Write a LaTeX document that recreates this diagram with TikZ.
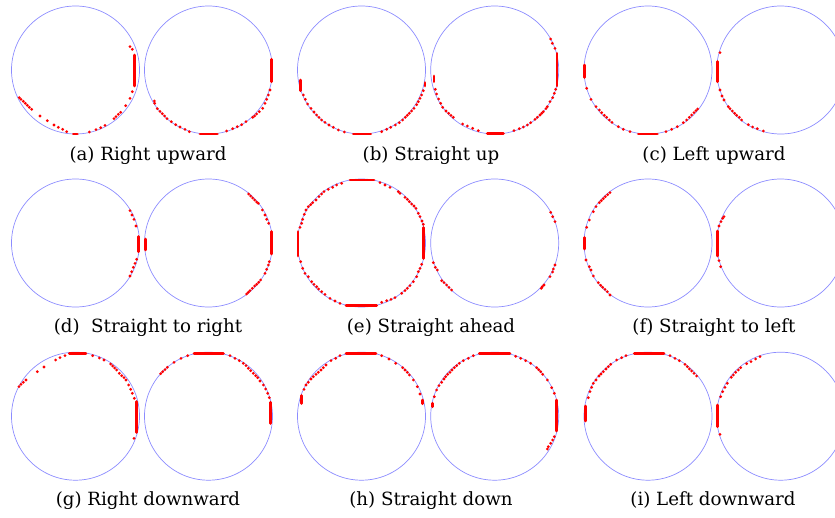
\documentclass[tikz,border=0pt]{standalone}
\usepackage{fontspec}
\setmainfont{DejaVu Serif}
\definecolor{ringblue}{RGB}{140,140,255}
\definecolor{dotred}{RGB}{255,0,0}
\tikzset{
  ring/.style={draw=ringblue, line width=0.7pt},
  reddot/.style={fill=dotred},
  redbar/.style={draw=dotred, line width=2.9pt, line cap=round},
  caption/.style={anchor=base, inner sep=0pt, font=\fontsize{18.2}{21}\selectfont}
}
\newcommand\rdots[3]{\foreach \a/\b in {#3} \fill[reddot] ({#1+\a/3},{#2+\b/3}) circle[radius=1.55pt];}
\newcommand\rbars[3]{\foreach \a/\b/\c/\d in {#3} \draw[redbar] ({#1+\a/3},{#2+\b/3}) -- ({#1+\c/3},{#2+\d/3});}
\begin{document}
\begin{tikzpicture}[x=1pt,y=-1pt]
\useasboundingbox (0,0) rectangle (835,517);
\clip (0,0) rectangle (835,517);
% circles
\foreach \cy in {70,243,416.2}{
  \foreach \cx in {75.5,208.5,361.5,494.7,648,780.7}{
    \draw[ring] (\cx,\cy) circle[radius=64pt];
  }
}
% captions
\node[caption] (ca) at (148,160) {(a) Right upward};
\node[caption] (cb) at (431,160) {(b) Straight up};
\node[caption] (cc) at (714,160) {(c) Left upward};
\node[caption] (cd) at (148,332) {(d)~ Straight to right};
\node[caption] (ce) at (431,332) {(e) Straight ahead};
\node[caption] (cf) at (714,332) {(f) Straight to left};
\node[caption] (cg) at (148,505) {(g) Right downward};
\node[caption] (ch) at (431,505) {(h) Straight down};
\node[caption] (ci) at (713,505) {(i) Left downward};
% (a)
\rdots{0}{0}{390/140,397/148,397/275,390/295,377/317,362/337,355/343,348/350,342/356,315/376,302/383,288/389,268/396,200/395,188/388,175/382,162/375,142/362,120/348,95/328,88/322,82/316,76/310,70/304,63/298,58/293}
\rbars{0}{0}{403/165/403/258,220/402/232/402}
\rdots{0}{0}{810/270,805/285,800/298,795/310,788/325,778/335,770/342,764/348,758/352,738/365,725/374,712/380,698/386,680/393,568/395,555/388,540/381,527/374,514/365,501/356,494/348,487/341,480/334,472/326,464/310,463/303}
\rbars{0}{0}{815/178/815/245,600/402/652/402}
% (b)
\rdots{290}{0}{40/285,46/298,53/312,63/325,72/336,80/345,87/352,95/360,105/367,117/375,130/382,145/390,163/396,275/395,290/388,302/382,316/375,328/368,338/360,346/352,352/346,358/340,365/333,372/325,380/314,385/305,390/295,395/285,400/272}
\rbars{290}{0}{32/240/32/272,190/402/242/402,405/248/405/258}
\rdots{290}{0}{436/268,440/282,446/297,452/310,458/322,468/333,476/340,483/346,490/352,518/372,532/378,548/385,565/392,672/392,688/386,700/381,712/375,722/368,735/358,742/352,750/345,755/340,760/335,768/326,772/320,780/305,788/293,793/280,797/268,782/117,787/130,795/145}
\rbars{290}{0}{432/228/432/245,592/400/640/400,801/160/801/258}
% (c)
\rdots{570}{0}{50/265,63/298,78/320,88/330,95/338,103/346,110/352,118/360,126/367,145/380,160/388,180/395,288/395,305/388,322/380,340/368,350/360,358/352,365/345,372/338,378/332,383/327}
\rbars{570}{0}{43/195/43/232,205/402/262/402}
\rdots{570}{0}{450/158,450/270,456/288,462/300,475/320,480/326,487/333,494/340,500/346,508/352,515/360,535/374,548/381,562/386,580/393}
\rbars{570}{0}{443/185/443/245}
% (d)
\rdots{0}{170}{390/122,396/135,402/148,408/168,410/268,405/280,400/292,395/305,390/318}
\rbars{0}{170}{416/200/416/245}
\rdots{0}{170}{746/72,752/78,758/84,764/90,770/96,775/100,787/120,795/135,800/148,806/160,808/275,805/285,800/298,795/310,782/330,776/337,770/343,764/348,757/355,750/362,745/367,740/372}
\rbars{0}{170}{436/207/436/240,815/185/815/252}
% (e)
\rdots{290}{170}{155/40,140/45,128/52,115/58,102/65,95/72,87/80,78/90,68/98,62/104,55/110,48/120,43/133,38/148,35/160,30/172,270/38,285/45,300/52,325/65,330/70,345/82,352/88,358/95,365/102,372/108,378/115,385/130,390/140,396/153,400/163,32/275,38/295,45/310,55/320,65/335,72/343,80/350,86/357,95/365,105/373,120/385,135/393,150/400,275/397,290/392,303/388,315/383,335/370,345/362,352/355,360/347,370/335,380/320,385/305,390/295,395/283}
\rbars{290}{170}{180/30/252/30,24/185/24/258,401/173/401/265,168/406/260/406}
\rdots{290}{170}{782/127,788/140,795/155,795/285,790/297,788/306,780/320,762/345,757/350,754/355,430/278,436/292,442/300,455/332,462/338,470/345,477/352,485/360}
% (f)
\rdots{570}{170}{120/68,113/74,106/80,100/86,94/92,88/98,78/110,70/125,58/150,50/172,48/270,58/290,63/300,70/318,85/338,92/346,98/352,105/358,112/365,120/375}
\rbars{570}{170}{43/203/43/237}
\rdots{570}{170}{462/140,458/145,453/155,447/168,447/272,452/290}
\rbars{570}{170}{442/183/442/258}
% (g)
\rdots{0}{345}{195/32,180/38,167/45,132/66,112/80,78/105,70/112,63/118,57/125,278/32,298/39,312/45,332/57,338/63,344/69,350/75,358/85,365/92,372/98,378/105,386/120,392/133,397/145,403/160,402/280}
\rbars{0}{345}{208/25/258/25,410/170/410/262}
\rdots{0}{345}{563/32,543/40,522/52,502/67,495/74,488/80,482/86,690/32,705/40,718/47,730/55,738/62,745/70,752/77,760/85,767/92,773/98,780/108,790/120,797/132,803/145,808/158}
\rbars{0}{345}{582/25/670/25,812/172/812/235}
% (h)
\rdots{290}{345}{150/32,137/40,123/47,108/60,100/68,93/75,85/82,78/88,70/95,63/102,55/112,48/120,42/133,275/32,297/42,317/55,338/68,345/75,352/82,358/90,370/105,382/125,390/147}
\rbars{290}{345}{168/25/258/25,35/152/35/175,398/165/398/176}
\rdots{290}{345}{550/32,535/40,520/47,508/55,500/62,493/68,486/75,480/82,473/88,467/95,462/102,455/112,447/122,440/135,433/155,677/34,692/40,707/47,722/55,740/68,746/74,752/80,758/88,772/105,785/128,793/145,793/275,788/285,782/295,775/305,772/312}
\rbars{290}{345}{568/25/660/25,428/175/428/185,800/165/800/258}
% (i)
\rdots{570}{345}{168/32,155/38,140/45,122/58,115/65,108/72,100/80,93/87,87/93,78/105,70/115,65/127,60/140,55/158,300/32,315/40,328/47,345/58,352/65,358/72,365/78,372/85,380/93}
\rbars{570}{345}{193/25/282/25,47/183/47/228}
\rdots{570}{345}{570/35,557/42,543/50,530/56,512/68,505/75,497/82,490/90,484/97,472/115,465/127,458/140,452/155,450/268}
\rbars{570}{345}{443/180/443/245}
\end{tikzpicture}
\end{document}
